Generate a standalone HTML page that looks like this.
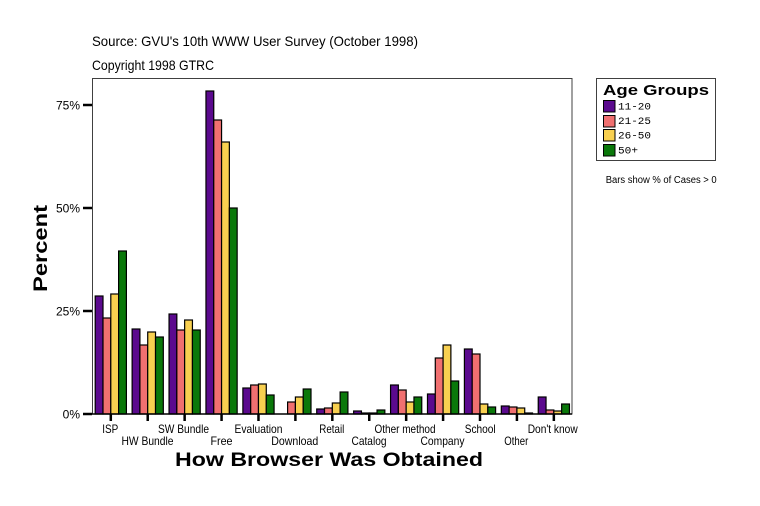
<!DOCTYPE html>
<html><head><meta charset="utf-8"><style>
html,body{margin:0;padding:0;background:#fff;}
svg{display:block;}
text{font-family:"Liberation Sans",Arial,sans-serif;fill:#000;}
</style></head><body>
<svg width="760" height="506" viewBox="0 0 760 506" xmlns="http://www.w3.org/2000/svg">
<rect width="760" height="506" fill="#fff"/>
<text x="92" y="46" font-size="14" textLength="326" lengthAdjust="spacingAndGlyphs">Source: GVU's 10th WWW User Survey (October 1998)</text>
<text x="92" y="70" font-size="14" textLength="122" lengthAdjust="spacingAndGlyphs">Copyright 1998 GTRC</text>
<rect x="92.5" y="78.5" width="479.5" height="335.5" fill="none" stroke="#404040" stroke-width="1"/>
<g id="bars" stroke="#000" stroke-width="1.2"></g>
<line x1="92" y1="414" x2="572" y2="414" stroke="#000" stroke-width="1.5"/>
<g stroke="#000" stroke-width="2.5">
<line x1="83" y1="105" x2="92" y2="105"/><line x1="83" y1="208" x2="92" y2="208"/><line x1="83" y1="311" x2="92" y2="311"/><line x1="83" y1="414" x2="92" y2="414"/>
</g>
<g font-size="12" text-anchor="end">
<text x="80" y="109.5">75%</text><text x="80" y="212.5">50%</text><text x="80" y="315.5">25%</text><text x="80" y="418.5">0%</text>
</g>
<g id="xt" stroke="#000" stroke-width="2.5"></g>
<g font-size="12" text-anchor="middle">
<text x="110.3" y="433" textLength="16" lengthAdjust="spacingAndGlyphs">ISP</text>
<text x="147.5" y="445" textLength="52" lengthAdjust="spacingAndGlyphs">HW Bundle</text>
<text x="183.5" y="433" textLength="51" lengthAdjust="spacingAndGlyphs">SW Bundle</text>
<text x="221.5" y="445" textLength="22" lengthAdjust="spacingAndGlyphs">Free</text>
<text x="258.5" y="433" textLength="48" lengthAdjust="spacingAndGlyphs">Evaluation</text>
<text x="294.8" y="445" textLength="47" lengthAdjust="spacingAndGlyphs">Download</text>
<text x="331.8" y="433" textLength="25" lengthAdjust="spacingAndGlyphs">Retail</text>
<text x="369" y="445" textLength="35" lengthAdjust="spacingAndGlyphs">Catalog</text>
<text x="405" y="433" textLength="61" lengthAdjust="spacingAndGlyphs">Other method</text>
<text x="442.5" y="445" textLength="44" lengthAdjust="spacingAndGlyphs">Company</text>
<text x="480.2" y="433" textLength="31" lengthAdjust="spacingAndGlyphs">School</text>
<text x="516.3" y="445" textLength="24" lengthAdjust="spacingAndGlyphs">Other</text>
<text x="552.7" y="433" textLength="50" lengthAdjust="spacingAndGlyphs">Don't know</text>
</g>
<text x="175" y="466" font-size="19" font-weight="900" textLength="308" lengthAdjust="spacingAndGlyphs">How Browser Was Obtained</text>
<text transform="translate(47,292) rotate(-90)" x="0" y="0" font-size="19" font-weight="900" textLength="87" lengthAdjust="spacingAndGlyphs">Percent</text>
<rect x="596.5" y="78.5" width="119" height="82" fill="#fff" stroke="#404040" stroke-width="1"/>
<text x="603" y="95" font-size="15" font-weight="900" textLength="106" lengthAdjust="spacingAndGlyphs">Age Groups</text>
<g stroke="#000" stroke-width="1">
<rect x="603.5" y="100.5" width="11.5" height="11.5" fill="#5b0a8e"/>
<rect x="603.5" y="115.5" width="11.5" height="11.5" fill="#f07070"/>
<rect x="603.5" y="129.5" width="11.5" height="11.5" fill="#f8d050"/>
<rect x="603.5" y="144.5" width="11.5" height="11.5" fill="#0a780a"/>
</g>
<g font-size="10" font-family="Liberation Mono, monospace">
<text x="618" y="109.5" textLength="33" lengthAdjust="spacingAndGlyphs" style="font-family:'Liberation Mono',monospace">11-20</text>
<text x="618" y="124" textLength="33" lengthAdjust="spacingAndGlyphs" style="font-family:'Liberation Mono',monospace">21-25</text>
<text x="618" y="138.5" textLength="33" lengthAdjust="spacingAndGlyphs" style="font-family:'Liberation Mono',monospace">26-50</text>
<text x="618" y="153.3" textLength="20" lengthAdjust="spacingAndGlyphs" style="font-family:'Liberation Mono',monospace">50+</text>
</g>
<text x="605.7" y="183" font-size="10" textLength="111" lengthAdjust="spacingAndGlyphs">Bars show % of Cases &gt; 0</text>
<script>
var tops=[[296,318,294,251],[329,345,332,337],[314,330,320,330],[91,120,142,208],[388,385,384,395],[null,402,397,389],[409,408,403,392],[411,413,413,410],[385,390,402,397],[394,358,345,381],[349,354,404,407],[406,407,408,413],[397,410,411,404]];
var cols=["#5b0a8e","#f07070","#f8d050","#0a780a"];
var ns="http://www.w3.org/2000/svg";
var g=document.getElementById("bars"),xt=document.getElementById("xt");
for(var i=0;i<13;i++){var c=110.8+i*36.92;
 for(var j=0;j<4;j++){var t=tops[i][j];if(t===null)continue;
  var r=document.createElementNS(ns,"rect");var x=c-15.6+j*7.8;
  r.setAttribute("x",x.toFixed(2));r.setAttribute("y",t);r.setAttribute("width","7.8");r.setAttribute("height",Math.max(414-t,0.5));r.setAttribute("fill",cols[j]);g.appendChild(r);}
 var l=document.createElementNS(ns,"line");l.setAttribute("x1",c);l.setAttribute("x2",c);l.setAttribute("y1",414);l.setAttribute("y2",421);xt.appendChild(l);}
</script>
</svg>
</body></html>
